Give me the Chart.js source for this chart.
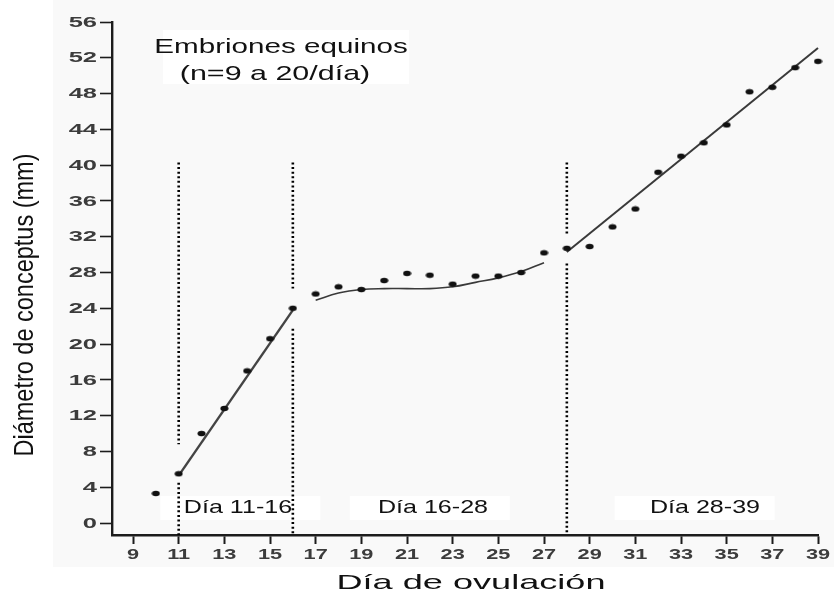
<!DOCTYPE html>
<html>
<head>
<meta charset="utf-8">
<script src="https://cdn.jsdelivr.net/npm/chart.js@4.4.1/dist/chart.umd.min.js"></script>
<style>
  html, body { margin: 0; padding: 0; background: #ffffff; }
  #wrap { width: 834px; height: 592px; position: relative; }
</style>
</head>
<body>
<div id="wrap"><canvas id="c"></canvas></div>
<script>
// Mean conceptus diameter (mm) per day after ovulation
const dias = [10, 11, 12, 13, 14, 15, 16, 17, 18, 19, 20, 21, 22, 23, 24,
              25, 26, 27, 28, 29, 30, 31, 32, 33, 34, 35, 36, 37, 38, 39];
const diametro = [3.3, 5.5, 10.0, 12.8, 17.0, 20.6, 24.0, 25.6, 26.4, 26.1, 27.1, 27.9, 27.7, 26.7, 27.6,
                  27.6, 28.0, 30.2, 30.7, 30.9, 33.1, 35.1, 39.2, 41.0, 42.5, 44.5, 48.2, 48.7, 50.9, 51.6];

// Fitted growth phases
const fase1Dias = [11, 16];
const fase1Ajuste = [5.3, 23.8];
const fase2Dias = [17, 18, 19, 20, 21, 22, 23, 24, 25, 26, 27];
const fase2Ajuste = [24.9, 25.7, 26.1, 26.2, 26.2, 26.2, 26.4, 26.9, 27.4, 28.1, 29.1];
const fase3Dias = [28, 39];
const fase3Ajuste = [30.3, 53.1];

// Phase boundaries (dotted), drawn as an upper and a lower piece
const limitesDias = [11, 16, 28];
const limiteSuperior = 40.3;
const limiteCorteAlto = [8.8, 26.2, 32.2];
const limiteCorteBajo = [4.5, 21.7, 29.0];

// Axis ticks and text
const ticksY = [0, 4, 8, 12, 16, 20, 24, 28, 32, 36, 40, 44, 48, 52, 56];
const ticksX = [9, 11, 13, 15, 17, 19, 21, 23, 25, 27, 29, 31, 33, 35, 37, 39];
const tituloY = 'Diámetro de conceptus (mm)';
const tituloX = 'Día de ovulación';
const leyenda = ['Embriones equinos', '(n=9 a 20/día)'];
const fases = ['Día 11-16', 'Día 16-28', 'Día 28-39'];
const fasesCentro = [13.7, 22.0, 33.6];

const Y_MIN = -1.34, Y_MAX = 56, X_MIN = 8.08, X_MAX = 39;
const FONT = "'Liberation Sans', Arial, Helvetica, sans-serif";
const AXIS = '#1c1c1c';

// small horizontal ellipse used as the marker
const marker = document.createElement('canvas');
marker.width = 9; marker.height = 7;
(function () {
  const m = marker.getContext('2d');
  m.fillStyle = '#111';
  m.beginPath();
  m.ellipse(4.5, 3.5, 4, 2.7, 0, 0, Math.PI * 2);
  m.fill();
})();

const pares = (xs, ys) => xs.map((x, i) => ({ x: x, y: ys[i] }));

const limites = limitesDias.map((d, i) => ({
  type: 'line',
  data: [
    { x: d, y: limiteSuperior }, { x: d, y: limiteCorteAlto[i] },
    { x: d, y: null },
    { x: d, y: limiteCorteBajo[i] }, { x: d, y: Y_MIN }
  ],
  showLine: true,
  spanGaps: false,
  borderColor: '#000',
  borderWidth: 2.6,
  borderDash: [2, 2.6],
  pointRadius: 0,
  clip: false
}));

function texto(ctx, str, x, y, o) {
  ctx.save();
  ctx.translate(x, y);
  if (o.rotate) ctx.rotate(o.rotate);
  ctx.scale(o.sx || 1, o.sy || 1);
  ctx.font = o.font;
  ctx.fillStyle = o.color || '#111';
  ctx.textAlign = o.align || 'center';
  ctx.textBaseline = o.baseline || 'alphabetic';
  ctx.fillText(str, 0, 0);
  ctx.restore();
}

const fondo = {
  id: 'fondo',
  beforeDraw(chart) {
    const ctx = chart.ctx;
    ctx.save();
    ctx.fillStyle = '#ffffff';
    ctx.fillRect(0, 0, chart.width, chart.height);
    ctx.fillStyle = '#f9f9f9';
    ctx.fillRect(53, 0, chart.width - 53, 567);
    ctx.fillStyle = '#ffffff';
    ctx.fillRect(163, 30, 246, 54);
    const y = chart.scales.y.getPixelForValue(0) - 27;
    fasesCentro.forEach(c => {
      const x = chart.scales.x.getPixelForValue(c);
      ctx.fillRect(x - 80, y, 160, 24);
    });
    ctx.restore();
  }
};

const rotulos = {
  id: 'rotulos',
  afterDraw(chart) {
    const ctx = chart.ctx;
    const sx = chart.scales.x, sy = chart.scales.y;

    // tick labels
    sy.ticks.forEach((t, i) => {
      texto(ctx, String(t.value), sx.left - 15, sy.getPixelForTick(i) + 0.5,
        { font: 'bold 15px ' + FONT, sx: 1.7, align: 'right', baseline: 'middle', color: '#3c3c3c' });
    });
    sx.ticks.forEach((t, i) => {
      texto(ctx, String(t.value), sx.getPixelForTick(i), sy.bottom + 20,
        { font: 'bold 15px ' + FONT, sx: 1.45, align: 'center', baseline: 'middle', color: '#3c3c3c' });
    });

    // axis titles
    texto(ctx, tituloX, 471, 589, { font: '21px ' + FONT, sx: 1.72 });
    texto(ctx, tituloY, 33, 305, { font: '23.5px ' + FONT, sy: 1.19, rotate: -Math.PI / 2 });

    // legend block
    texto(ctx, leyenda[0], 281, 53, { font: '21px ' + FONT, sx: 1.41 });
    texto(ctx, leyenda[1], 275, 80, { font: '21px ' + FONT, sx: 1.45 });

    // phase names
    const yBase = sy.getPixelForValue(0) - 10;
    const centros = [238, 433, 705];
    fases.forEach((f, i) => {
      texto(ctx, f, centros[i], yBase, { font: '19px ' + FONT, sx: 1.32 });
    });
  }
};

new Chart(document.getElementById('c'), {
  type: 'scatter',
  data: {
    datasets: [
      {
        data: pares(dias, diametro),
        pointStyle: marker,
        pointRadius: 4,
        showLine: false,
        clip: false,
        order: 0
      },
      {
        type: 'line',
        data: pares(fase1Dias, fase1Ajuste),
        showLine: true,
        borderColor: '#444',
        borderWidth: 2.4,
        pointRadius: 0,
        clip: false
      },
      {
        type: 'line',
        data: pares(fase2Dias, fase2Ajuste),
        showLine: true,
        borderColor: '#3a3a3a',
        borderWidth: 1.6,
        tension: 0.4,
        pointRadius: 0,
        clip: false
      },
      {
        type: 'line',
        data: pares(fase3Dias, fase3Ajuste),
        showLine: true,
        borderColor: '#3a3a3a',
        borderWidth: 2,
        pointRadius: 0,
        clip: false
      },
      ...limites
    ]
  },
  options: {
    responsive: true,
    maintainAspectRatio: false,
    animation: false,
    events: [],
    layout: { padding: { left: 0, top: 22, right: 16, bottom: 0 } },
    plugins: { legend: { display: false }, tooltip: { enabled: false } },
    scales: {
      x: {
        type: 'linear',
        min: X_MIN, max: X_MAX,
        afterBuildTicks: s => { s.ticks = ticksX.map(v => ({ value: v })); },
        afterFit: s => { s.height = 57; },
        ticks: { display: false },
        grid: { display: true, drawOnChartArea: false, drawTicks: true, tickLength: 9, tickColor: AXIS, tickWidth: 2 },
        border: { display: true, color: AXIS, width: 2.4 }
      },
      y: {
        type: 'linear',
        min: Y_MIN, max: Y_MAX,
        afterBuildTicks: s => { s.ticks = ticksY.map(v => ({ value: v })); },
        afterFit: s => { s.width = 112; },
        ticks: { display: false },
        grid: { display: true, drawOnChartArea: false, drawTicks: true, tickLength: 12, tickColor: AXIS, tickWidth: 1.6 },
        border: { display: true, color: AXIS, width: 2.4 }
      }
    }
  },
  plugins: [fondo, rotulos]
});
</script>
</body>
</html>
